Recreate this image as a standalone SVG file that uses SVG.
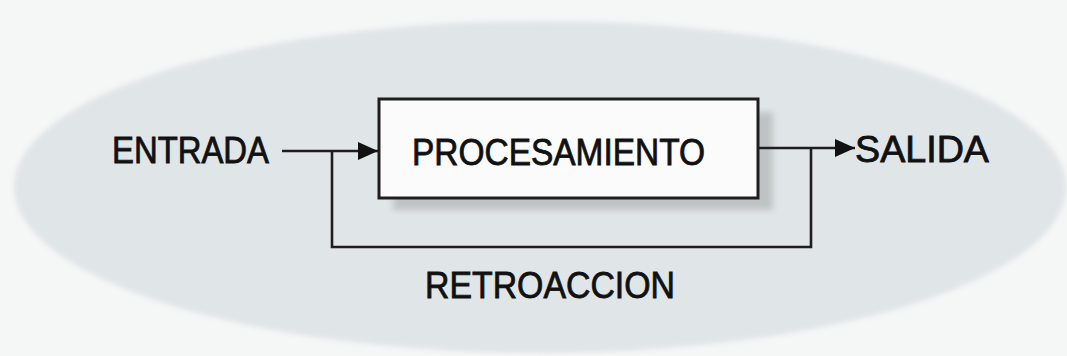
<svg xmlns="http://www.w3.org/2000/svg" width="1067" height="356" viewBox="0 0 1067 356">
  <style>
    .lbl { font-family: "Liberation Sans", Arial, sans-serif; font-size: 36px; fill: #111; stroke: #111; stroke-width: 0.8; }
    .wire { fill: none; stroke: #1e1e1e; stroke-width: 2.6; stroke-linejoin: miter; }
  </style>
  <defs>
    <filter id="soft" x="-5%" y="-5%" width="110%" height="110%">
      <feGaussianBlur stdDeviation="3"/>
    </filter>
    <filter id="edge" x="-5%" y="-10%" width="110%" height="120%">
      <feGaussianBlur stdDeviation="2.5"/>
    </filter>
    <marker id="arrow" markerWidth="20" markerHeight="18" refX="20" refY="9" orient="auto" markerUnits="userSpaceOnUse">
      <path d="M0,0 L20,9 L0,18 Z" fill="#111"/>
    </marker>
  </defs>
  <rect x="0" y="0" width="1067" height="356" fill="#f5f6f6"/>
  <ellipse cx="540" cy="187" rx="526" ry="166" fill="#e0e5e7" filter="url(#edge)"/>

  <g id="node-procesamiento">
    <rect x="393" y="112" width="380" height="98" fill="#bfc3c4" filter="url(#soft)"/>
    <rect x="379" y="99" width="379" height="99" fill="#fbfbfb" stroke="#1e1e1e" stroke-width="3"/>
    <text class="lbl" x="412" y="165" textLength="293" lengthAdjust="spacingAndGlyphs">PROCESAMIENTO</text>
  </g>
  <g id="node-entrada">
    <text class="lbl" x="112" y="163" textLength="157" lengthAdjust="spacingAndGlyphs">ENTRADA</text>
  </g>
  <g id="node-salida">
    <text class="lbl" x="855" y="162" textLength="134" lengthAdjust="spacingAndGlyphs">SALIDA</text>
  </g>
  <g id="node-retroaccion">
    <text class="lbl" x="425" y="298" font-size="32" textLength="250" lengthAdjust="spacingAndGlyphs">RETROACCION</text>
  </g>

  <g id="connectors">
    <line class="wire" x1="282" y1="151" x2="378" y2="151" marker-end="url(#arrow)"/>
    <line class="wire" x1="758" y1="148" x2="855" y2="148" marker-end="url(#arrow)"/>
    <polyline class="wire" points="811,148 811,247 332,247 332,151"/>
  </g>
</svg>
